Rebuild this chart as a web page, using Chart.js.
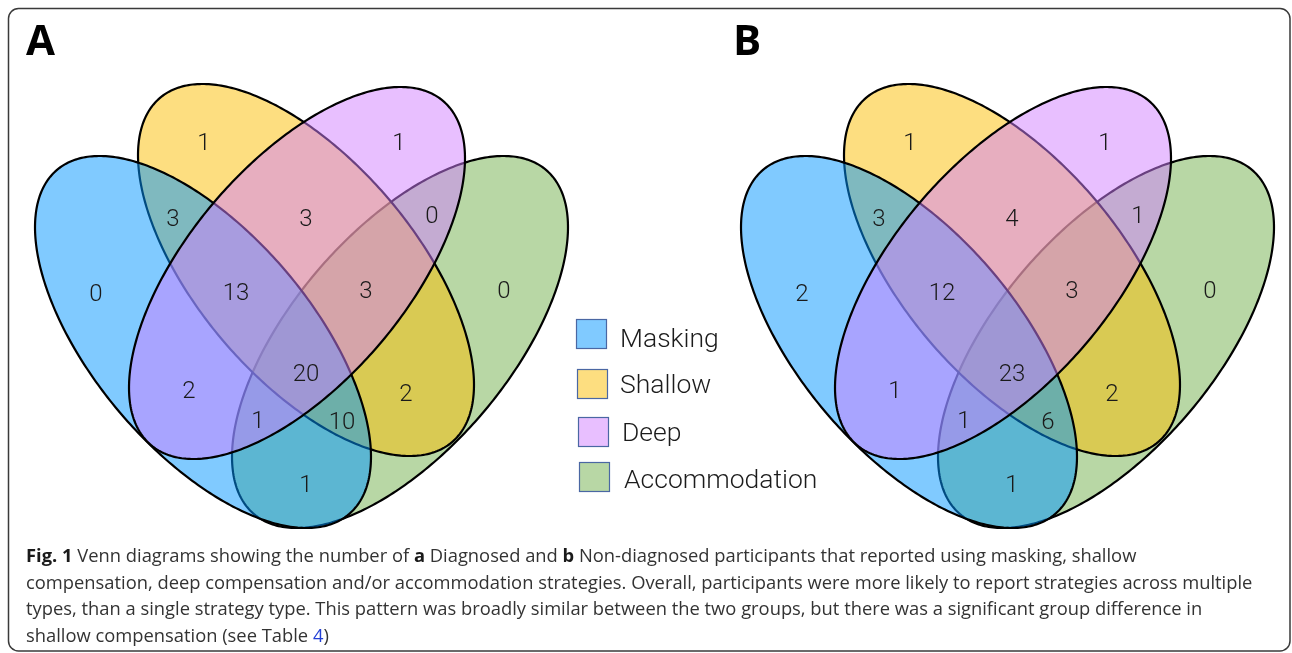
<!DOCTYPE html>
<html>
<head>
<meta charset="utf-8">
<script src="https://cdn.jsdelivr.net/npm/chart.js@4.4.1/dist/chart.umd.min.js"></script>
<style>
  html, body { margin: 0; padding: 0; background: #fff; }
  #wrap { width: 1292px; height: 653px; }
</style>
</head>
<body>
<div id="wrap"><canvas id="cVenn" width="1292" height="653"></canvas></div>
<script>
/* ── data ─────────────────────────────── */
const setNames   = ['Masking', 'Shallow', 'Deep', 'Accommodation'];
const panelNames = ['A', 'B'];
// region = which sets it belongs to (M S D A)
const regionKeys = ['M', 'S', 'D', 'A', 'MS', 'SD', 'DA', 'MSD', 'SDA', 'MD', 'MSDA', 'SA', 'MDA', 'MSA', 'MA'];
const countsA    = [ 0,   1,   1,   0,   3,    3,    0,    13,    3,     2,    20,     2,    1,     10,    1  ];
const countsB    = [ 2,   1,   1,   0,   3,    4,    1,    12,    3,     1,    23,     2,    1,     6,     1  ];

const captionLines = [
  [['Fig. 1', 'b'], [' Venn diagrams showing the number of '], ['a', 'b'], [' Diagnosed and '], ['b', 'b'],
   [' Non-diagnosed participants that reported using masking, shallow']],
  [['compensation, deep compensation and/or accommodation strategies. Overall, participants were more likely to report strategies across multiple']],
  [['types, than a single strategy type. This pattern was broadly similar between the two groups, but there was a significant group difference in']],
  [['shallow compensation (see Table '], ['4', 'link'], [')']]
];

/* ── layout (px of the figure) ────────── */
const panelOffset = [0, 706];
const labelPos = {
  M: [96, 292],  S: [204, 141],  D: [399, 141],  A: [504, 289],
  MS: [173, 217], SD: [306, 217], DA: [432, 214],
  MSD: [236, 291], SDA: [366, 289],
  MD: [189, 389], MSDA: [306, 372], SA: [406, 392],
  MDA: [258, 419], MSA: [342, 420], MA: [306, 483]
};
// drawn in this order (later fills tint earlier outlines)
const ellipses = [
  { set: 'Accommodation', cx: 400, cy: 342, rot: -49.7, rgb: [113, 175, 75] },
  { set: 'Shallow',       cx: 306, cy: 270, rot:  49.7, rgb: [251, 189, 1] },
  { set: 'Masking',       cx: 203, cy: 342, rot:  49.7, rgb: [1, 149, 255] },
  { set: 'Deep',          cx: 297, cy: 273, rot: -49.7, rgb: [209, 127, 255] }
];
const semiMajor = 225.7, semiMinor = 109;
const legendBox = { x: [576, 577, 578, 579], y: [319, 369, 417, 462], w: 31, h: 30 };
const legendText = { x: [620, 620, 622, 624], y: [347, 393, 441, 488] };

const rgba = (c, a) => `rgba(${c[0]},${c[1]},${c[2]},${a})`;
const onWhite = c => `rgb(${c.map(v => Math.round(v * .5 + 127.5)).join(',')})`;

const vennPlugin = {
  id: 'venn',
  beforeDatasetsDraw(chart) {
    const { ctx, scales: { x, y } } = chart;
    ctx.save();

    // frame
    ctx.strokeStyle = '#3a3a3a'; ctx.lineWidth = 1.5;
    ctx.beginPath();
    ctx.roundRect(x.getPixelForValue(8.5), y.getPixelForValue(8.5),
      x.getPixelForValue(1290) - x.getPixelForValue(8.5),
      y.getPixelForValue(651) - y.getPixelForValue(8.5), 10);
    ctx.stroke();

    panelOffset.forEach((off, p) => {
      ellipses.forEach(e => {
        const r = e.rot * Math.PI / 180, c = Math.cos(r), s = Math.sin(r);
        ctx.beginPath();
        for (let i = 0; i <= 360; i++) {
          const t = i * Math.PI / 180;
          const u = semiMajor * Math.cos(t), v = semiMinor * Math.sin(t);
          const px = x.getPixelForValue(off + e.cx + u * c - v * s);
          const py = y.getPixelForValue(e.cy + u * s + v * c);
          i ? ctx.lineTo(px, py) : ctx.moveTo(px, py);
        }
        ctx.closePath();
        ctx.fillStyle = rgba(e.rgb, .5);
        ctx.fill();
        ctx.strokeStyle = '#000'; ctx.lineWidth = 2.2;
        ctx.stroke();
      });
      ctx.fillStyle = '#000';
      ctx.font = "bold 42px 'Open Sans'";
      ctx.textBaseline = 'alphabetic'; ctx.textAlign = 'left';
      ctx.fillText(panelNames[p], x.getPixelForValue(26 + off + (p ? 1 : 0)), y.getPixelForValue(55));
    });

    // legend
    setNames.forEach((name, i) => {
      const e = ellipses.find(d => d.set === name);
      const bx = x.getPixelForValue(legendBox.x[i]), by = y.getPixelForValue(legendBox.y[i]);
      ctx.fillStyle = onWhite(e.rgb);
      ctx.fillRect(bx, by, legendBox.w, legendBox.h);
      ctx.strokeStyle = '#4a67a3'; ctx.lineWidth = 1.2;
      ctx.strokeRect(bx + .5, by + .5, legendBox.w - 1, legendBox.h - 1);
      ctx.fillStyle = '#1c1c1c';
      ctx.font = "300 26.5px Roboto";
      ctx.fillText(name, x.getPixelForValue(legendText.x[i]), y.getPixelForValue(legendText.y[i]));
    });
    ctx.restore();
  },
  afterDatasetsDraw(chart) {
    const { ctx, scales: { x, y } } = chart;
    ctx.save();
    ctx.fillStyle = '#1a1a1a';
    ctx.font = "300 24px Roboto";
    ctx.textAlign = 'center'; ctx.textBaseline = 'alphabetic';
    chart.data.datasets.forEach((ds, di) => {
      chart.getDatasetMeta(di).data.forEach((pt, i) => {
        ctx.fillText(String(ds.counts[i]), pt.x, pt.y + 8.5);
      });
    });

    // caption, sized so the widest line spans the frame like the original
    ctx.textAlign = 'left';
    const fontFor = (st, sz) => `${st === 'b' ? 'bold ' : ''}${sz}px 'Open Sans'`;
    const lineW = (line, sz) => line.reduce((w, [t, st]) => { ctx.font = fontFor(st, sz); return w + ctx.measureText(t).width; }, 0);
    const size = 18 * (1227 / lineW(captionLines[1], 18));
    const base = [562, 588.5, 615, 641.5];
    captionLines.forEach((line, li) => {
      let cx = x.getPixelForValue(26);
      line.forEach(([t, st]) => {
        ctx.font = fontFor(st, size);
        ctx.fillStyle = st === 'link' ? '#2340d6' : (st === 'b' ? '#1a1a1a' : '#333');
        ctx.fillText(t, cx, y.getPixelForValue(base[li]));
        cx += ctx.measureText(t).width;
      });
    });
    ctx.restore();
  }
};

const toPoints = off => regionKeys.map(k => ({ x: labelPos[k][0] + off, y: labelPos[k][1] }));

new Chart('cVenn', {
  type: 'scatter',
  data: {
    datasets: [
      { label: 'Diagnosed',     data: toPoints(panelOffset[0]), counts: countsA, pointRadius: 0 },
      { label: 'Non-diagnosed', data: toPoints(panelOffset[1]), counts: countsB, pointRadius: 0 }
    ]
  },
  options: {
    responsive: false, animation: false, events: [],
    layout: { padding: 0 },
    plugins: { legend: { display: false }, tooltip: { enabled: false } },
    scales: {
      x: { type: 'linear', min: 0, max: 1292, display: false },
      y: { type: 'linear', min: 0, max: 653, reverse: true, display: false }
    }
  },
  plugins: [vennPlugin]
});
</script>
</body>
</html>
